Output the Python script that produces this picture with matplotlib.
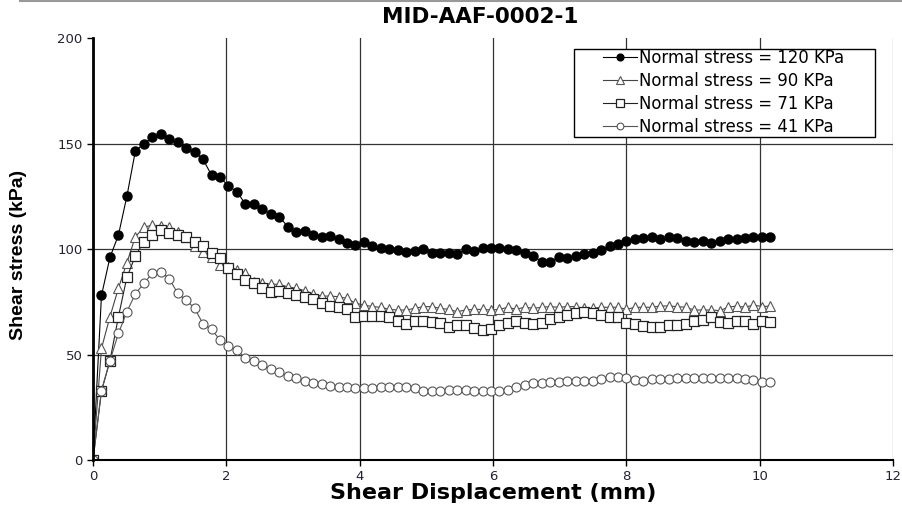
import numpy as np
import matplotlib
matplotlib.use('Agg')
import matplotlib.pyplot as plt
from matplotlib.patches import Rectangle
from matplotlib.lines import Line2D

plt.rcParams['font.family'] = ['Liberation Sans', 'DejaVu Sans']

# displacement readings (mm), 0.127 mm steps
disp = [0.000, 0.127, 0.254, 0.381, 0.508, 0.635, 0.762, 0.889, 1.016, 1.143,
        1.270, 1.397, 1.524, 1.651, 1.778, 1.905, 2.032, 2.159, 2.286, 2.413,
        2.540, 2.667, 2.794, 2.921, 3.048, 3.175, 3.302, 3.429, 3.556, 3.683,
        3.810, 3.937, 4.064, 4.191, 4.318, 4.445, 4.572, 4.699, 4.826, 4.953,
        5.080, 5.207, 5.334, 5.461, 5.588, 5.715, 5.842, 5.969, 6.096, 6.223,
        6.350, 6.477, 6.604, 6.731, 6.858, 6.985, 7.112, 7.239, 7.366, 7.493,
        7.620, 7.747, 7.874, 8.001, 8.128, 8.255, 8.382, 8.509, 8.636, 8.763,
        8.890, 9.017, 9.144, 9.271, 9.398, 9.525, 9.652, 9.779, 9.906, 10.033,
        10.160]

s120 = [0, 78, 96, 106.6, 125, 146.4, 150, 153, 154.4, 152.4,
        150.9, 147.7, 146, 142.5, 135, 134, 129.9, 127.2, 121.3, 121.3,
        118.8, 116.6, 115.4, 110.6, 108.2, 108.7, 106.6, 105.5, 106.2, 104.6,
        102.7, 101.9, 103.5, 101.4, 100.3, 99.8, 99.5, 98.7, 99.2, 99.8,
        98.3, 98, 98, 97.5, 99.8, 99.2, 100.3, 100.3, 100.3, 99.8,
        99.5, 98.3, 96.7, 94, 94, 96, 95.6, 96.7, 97.6, 98.3,
        99.5, 101.4, 102.4, 103.9, 104.6, 105.1, 105.8, 104.6, 105.8, 105.1,
        103.9, 103.5, 103.9, 102.7, 103.9, 104.6, 104.6, 105.1, 105.8, 105.5,
        105.5]

s90 = [0, 52.9, 67.9, 81.4, 93.5, 105.8, 110.3, 111.4, 110.9, 110.3,
       108.2, 105.8, 101.4, 98.7, 96, 92.4, 91.6, 90.3, 88.8, 84.5,
       83.7, 83.4, 83.2, 82.1, 81.4, 80.3, 78.7, 77.7, 77.7, 77.4,
       76.6, 74.3, 73.5, 72.7, 72.4, 71.4, 71.1, 71.1, 71.9, 72.7,
       72.7, 71.9, 71.4, 70.3, 71.1, 71.4, 71.4, 71.1, 71.4, 72.4,
       71.4, 72.5, 71.9, 72.4, 72.7, 72.4, 72.7, 72.7, 71.9, 71.9,
       72.4, 72.4, 72.4, 71.4, 72.4, 72.4, 72.4, 73, 73, 72.7,
       72.4, 71.1, 71.1, 71.1, 70.8, 72.4, 73, 72.4, 73.5, 72.7,
       73]

s71 = [0, 32.8, 47, 67.9, 86.6, 96.7, 103.5, 106.6, 109, 107.7,
       106.6, 105.5, 103.5, 101.4, 98.3, 95.6, 91.1, 88.2, 85.3, 84,
       81.4, 79.8, 80, 79, 78.2, 77.1, 76.2, 74.3, 73, 72.7,
       71.4, 67.9, 68.2, 68.2, 68.2, 67.9, 66, 64.5, 66, 66,
       65.6, 65.1, 63.2, 64, 64, 62.4, 61.6, 61.9, 64, 65.1,
       66, 65, 64.5, 65.1, 66.7, 67.9, 68.7, 69.8, 70.3, 69.8,
       68.7, 67.9, 67.9, 65.1, 64.5, 63.5, 62.9, 62.9, 64, 64,
       64.5, 66, 66.4, 67.9, 65.6, 65.1, 66, 66, 64.5, 66,
       65.6]

s41 = [0, 32.8, 47, 60, 70.3, 78.7, 83.7, 88.5, 89.2, 86,
       79, 75.8, 71.9, 64.5, 61.9, 56.9, 54, 52.1, 48.2, 47,
       45, 43, 41.6, 39.8, 38.7, 37.6, 36.6, 36, 35.1, 34.4,
       34.4, 34, 34, 34, 34.4, 34.4, 34.4, 34.4, 34, 32.8,
       32.8, 32.8, 33.2, 33.2, 33.2, 32.8, 32.8, 32.8, 32.8, 33.2,
       34.7, 35.5, 36.3, 36.6, 37.1, 37.1, 37.6, 37.6, 37.6, 37.6,
       38.2, 39.2, 39.2, 38.7, 37.9, 37.6, 38.2, 38.2, 38.2, 38.7,
       38.7, 38.7, 38.7, 38.7, 38.7, 38.7, 38.7, 38.2, 37.9, 37.1,
       36.8]

labels = ['Normal stress = 120 KPa', 'Normal stress = 90 KPa',
          'Normal stress = 71 KPa', 'Normal stress = 41 KPa']

fig = plt.figure(figsize=(9.03, 5.08), dpi=100)
ax = fig.add_axes([0.103, 0.0945, 0.886, 0.8305])

# thin grey line along the top edge of the picture
fig.add_artist(Line2D([0.022, 1.0], [0.999, 0.999], transform=fig.transFigure, color='#999999', lw=1.5))

ax.plot(disp, s120, '-o', color='black', lw=0.8, ms=6.5, mfc='black', mec='black', label=labels[0])
ax.plot(disp, s90, '-^', color='#444444', lw=0.8, ms=7, mfc='white', mec='#555555', mew=0.8, label=labels[1])
ax.plot(disp, s71, '-s', color='#222222', lw=0.8, ms=7.5, mfc='white', mec='#222222', mew=0.9, label=labels[2])
ax.plot(disp, s41, '-o', color='#555555', lw=0.8, ms=6.5, mfc='white', mec='#555555', mew=0.8, label=labels[3])

ax.set_xlim(0, 12)
ax.set_ylim(0, 200)
ax.set_xticks(range(0, 13, 2))
ax.set_yticks(range(0, 201, 50))
ax.grid(True, color='#333333', lw=0.9)
ax.yaxis.get_gridlines()[-1].set_visible(False)
ax.xaxis.get_gridlines()[-1].set_color('#888888')
ax.set_axisbelow(True)
for side in ['top', 'right']:
    ax.spines[side].set_visible(False)
ax.spines['left'].set_linewidth(2)
ax.spines['bottom'].set_linewidth(1.5)
ax.tick_params(direction='out', length=4, width=1, colors='black', labelcolor='#222233')
for t in ax.get_xticklabels() + ax.get_yticklabels():
    t.set_fontfamily('DejaVu Sans')
    t.set_fontsize(9.5)

ax.set_title('MID-AAF-0002-1', fontsize=15.5, fontweight='bold', family='DejaVu Sans',
             x=0.484, pad=11)
ax.set_xlabel('Shear Displacement (mm)', fontsize=16, fontweight='bold', family='DejaVu Sans', labelpad=0)
ax.set_ylabel('Shear stress (kPa)', fontsize=14, fontweight='bold')
ax.yaxis.set_label_coords(-0.082, 0.486)

# legend frame drawn separately (Excel style padding)
ax.add_patch(Rectangle((0.601, 0.765), 0.3765, 0.209, transform=ax.transAxes,
                       facecolor='white', edgecolor='black', lw=1.0, zorder=5))
leg = ax.legend(loc='upper left', bbox_to_anchor=(0.637, 0.974),
                prop={'family': 'DejaVu Sans', 'size': 11.9},
                frameon=False, handlelength=2.1, handletextpad=0.1, borderpad=0.0,
                borderaxespad=0.0, labelspacing=0.3, markerscale=0.75)
leg.set_zorder(6)

fig.savefig('out.png', dpi=100)
